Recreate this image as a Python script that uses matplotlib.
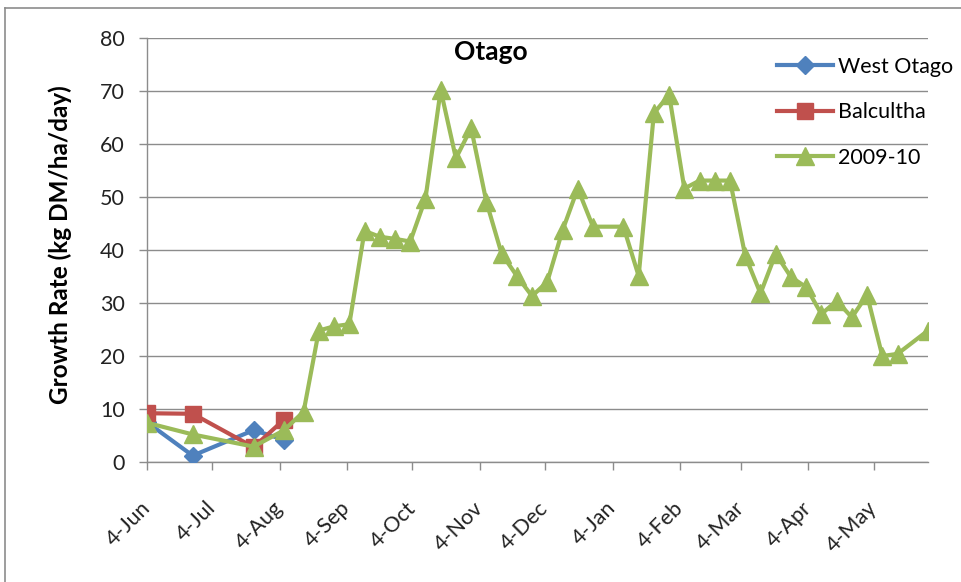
import numpy as np
import pandas as pd
import matplotlib
matplotlib.use('Agg')
import matplotlib.pyplot as plt
import matplotlib.dates as mdates
from matplotlib.lines import Line2D

plt.rcParams['font.family'] = ['Lato', 'DejaVu Sans']

# data
west_dates = ['2009-06-04', '2009-06-25', '2009-07-23', '2009-08-06']
west_vals = [7.5, 1.2, 6.0, 4.2]

balc_dates = ['2009-06-04', '2009-06-25', '2009-07-23', '2009-08-06']
balc_vals = [9.2, 9.1, 2.8, 8.0]

season_dates = ['2009-06-04', '2009-06-25', '2009-07-23', '2009-08-06', '2009-08-15',
                '2009-08-22', '2009-08-29', '2009-09-05', '2009-09-12', '2009-09-19',
                '2009-09-26', '2009-10-03', '2009-10-10', '2009-10-17', '2009-10-24',
                '2009-10-31', '2009-11-07', '2009-11-14', '2009-11-21', '2009-11-28',
                '2009-12-05', '2009-12-12', '2009-12-19', '2009-12-26', '2010-01-09',
                '2010-01-16', '2010-01-23', '2010-01-30', '2010-02-06', '2010-02-13',
                '2010-02-20', '2010-02-27', '2010-03-06', '2010-03-13', '2010-03-20',
                '2010-03-27', '2010-04-03', '2010-04-10', '2010-04-17', '2010-04-24',
                '2010-05-01', '2010-05-08', '2010-05-15', '2010-05-29']
season_vals = [7.4, 5.2, 2.9, 6.0, 9.5,
               24.8, 25.6, 26.0, 43.6, 42.5,
               42.1, 41.6, 49.7, 70.2, 57.3,
               63.0, 49.1, 39.3, 35.1, 31.3,
               34.0, 43.7, 51.6, 44.4, 44.4,
               35.1, 65.8, 69.3, 51.6, 53.1,
               53.1, 53.1, 38.9, 31.8, 39.3,
               34.9, 33.0, 27.9, 30.4, 27.3,
               31.5, 20.0, 20.4, 24.8]

tick_dates = pd.date_range('2009-06-04', periods=12, freq=pd.DateOffset(months=1))
tick_labels = [d.strftime('%-d-%b') for d in tick_dates]

blue = '#4F81BD'
red = '#C0504D'
green = '#9BBB59'
grey = '#8C8C8C'

fig = plt.figure(figsize=(9.61, 5.82), dpi=100)
ax = fig.add_axes([147/961, 1-462/582, (928-147)/961, (462-38)/582])

ax.plot(pd.to_datetime(west_dates), west_vals, color=blue, lw=3.0, marker='D',
        ms=9, label='West Otago', zorder=3)
ax.plot(pd.to_datetime(balc_dates), balc_vals, color=red, lw=3.0, marker='s',
        ms=12, label='Balcultha', zorder=4)
ax.plot(pd.to_datetime(season_dates), season_vals, color=green, lw=3.0, marker='^',
        ms=13, label='2009-10', zorder=5)

ax.set_ylim(0, 80)
ax.set_yticks(np.arange(0, 90, 10))
ax.set_xlim(pd.Timestamp('2009-06-04'), pd.Timestamp('2010-05-29'))
ax.set_xticks(mdates.date2num(tick_dates))
ax.set_xticklabels(tick_labels)
ax.yaxis.grid(True, color=grey, lw=1.0)
ax.set_axisbelow(True)
for s in ['top', 'right']:
    ax.spines[s].set_visible(False)
for s in ['left', 'bottom']:
    ax.spines[s].set_color(grey)
    ax.spines[s].set_linewidth(1.0)
ax.tick_params(axis='both', direction='out', length=6, width=1.0, color=grey,
               labelsize=15.5, labelcolor='#222222')
ax.tick_params(axis='y', pad=10)
ax.tick_params(axis='x', pad=25)
plt.setp(ax.get_xticklabels(), rotation=45, ha='right', va='center', rotation_mode='anchor')

ax.text(0.44, 0.995, 'Otago', transform=ax.transAxes, ha='center', va='top',
        fontsize=19, fontweight='bold')
fig.text(60/961, 1-245/582, 'Growth Rate (kg DM/ha/day)', rotation=90, ha='center',
         va='center', fontsize=17.5, fontweight='bold')

fig.legend(loc='upper left', bbox_to_anchor=(768/961, 1-48/582), frameon=False,
           fontsize=15.5, handlelength=2.6, handletextpad=0.25, labelspacing=1.19,
           borderaxespad=0)

# chart frame (top and left edges visible)
fig.add_artist(Line2D([5/961, 5/961], [0, 1-8/582], transform=fig.transFigure,
                      color=grey, lw=1.2))
fig.add_artist(Line2D([5/961, 1], [1-8/582, 1-8/582], transform=fig.transFigure,
                      color=grey, lw=1.2))

fig.savefig('out.png', dpi=100)
